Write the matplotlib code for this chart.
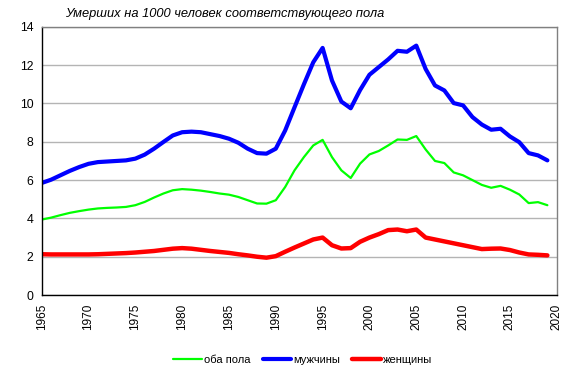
import matplotlib
matplotlib.use("Agg")
import matplotlib.pyplot as plt

plt.rcParams["font.family"] = ["Liberation Sans", "DejaVu Sans"]

years = list(range(1965, 2020))

both = [3.94, 4.04, 4.17, 4.29, 4.38, 4.46, 4.52, 4.55, 4.57, 4.60,
        4.69, 4.86, 5.09, 5.30, 5.47, 5.53, 5.50, 5.45, 5.38, 5.30,
        5.24, 5.12, 4.95, 4.78, 4.77, 4.95, 5.64, 6.51, 7.20, 7.81,
        8.10, 7.20, 6.51, 6.11, 6.86, 7.34, 7.52, 7.81, 8.12, 8.10,
        8.30, 7.60, 7.00, 6.89, 6.40, 6.25, 6.00, 5.75, 5.60, 5.70,
        5.50, 5.25, 4.80, 4.85, 4.69]

men = [5.85, 6.02, 6.25, 6.48, 6.68, 6.85, 6.94, 6.97, 7.00, 7.03,
       7.12, 7.33, 7.64, 7.99, 8.33, 8.50, 8.53, 8.50, 8.40, 8.30,
       8.16, 7.95, 7.64, 7.41, 7.38, 7.64, 8.59, 9.80, 11.00, 12.15,
       12.90, 11.20, 10.10, 9.75, 10.70, 11.50, 11.90, 12.30, 12.75, 12.70,
       13.02, 11.80, 10.94, 10.68, 10.02, 9.90, 9.29, 8.90, 8.63, 8.68,
       8.28, 7.98, 7.41, 7.29, 7.03]

women = [2.13, 2.12, 2.12, 2.12, 2.12, 2.12, 2.13, 2.15, 2.17, 2.19,
         2.22, 2.26, 2.30, 2.36, 2.42, 2.45, 2.42, 2.36, 2.30, 2.25,
         2.20, 2.13, 2.07, 2.00, 1.95, 2.03, 2.26, 2.48, 2.69, 2.90,
         3.00, 2.60, 2.43, 2.45, 2.78, 3.00, 3.18, 3.39, 3.42, 3.33,
         3.42, 3.00, 2.90, 2.80, 2.70, 2.60, 2.50, 2.40, 2.42, 2.43,
         2.35, 2.22, 2.12, 2.10, 2.07]

xticks = list(range(1965, 2021, 5))
yticks = list(range(0, 15, 2))

fig = plt.figure(figsize=(5.82, 3.73), dpi=100)
ax = fig.add_axes([0.0716, 0.209, 0.885, 0.719])

ax.plot(years, both, color="#00ff00", lw=1.6, label="оба пола", solid_capstyle="round")
ax.plot(years, men, color="#0000ff", lw=3.0, label="мужчины", solid_capstyle="round")
ax.plot(years, women, color="#ff0000", lw=3.2, label="женщины", solid_capstyle="round")

ax.set_xlim(1965, 2020)
ax.set_ylim(0, 14)
ax.set_xticks(xticks)
ax.set_xticklabels([str(x) for x in xticks], rotation=90, fontsize=8.5)
ax.set_yticks(yticks)
ax.set_yticklabels([str(y) for y in yticks], fontsize=8.8)
ax.tick_params(length=0, pad=6)
ax.yaxis.grid(True, color="#b4b4b4", lw=1)
ax.set_axisbelow(True)

ax.spines["left"].set_color("black")
ax.spines["bottom"].set_color("black")
ax.spines["top"].set_color("#808080")
ax.spines["right"].set_color("#808080")
for s in ax.spines.values():
    s.set_linewidth(1)

fig.text(0.112, 0.962, "Умерших на 1000 человек соответствующего пола",
         fontsize=9.3, style="italic", va="center", ha="left")

fig.legend(loc="center", bbox_to_anchor=(0.52, 0.035), ncol=3, frameon=False,
           fontsize=8, handlelength=2.6, handletextpad=0.15, columnspacing=1.1)

fig.savefig("out.png", dpi=100)
